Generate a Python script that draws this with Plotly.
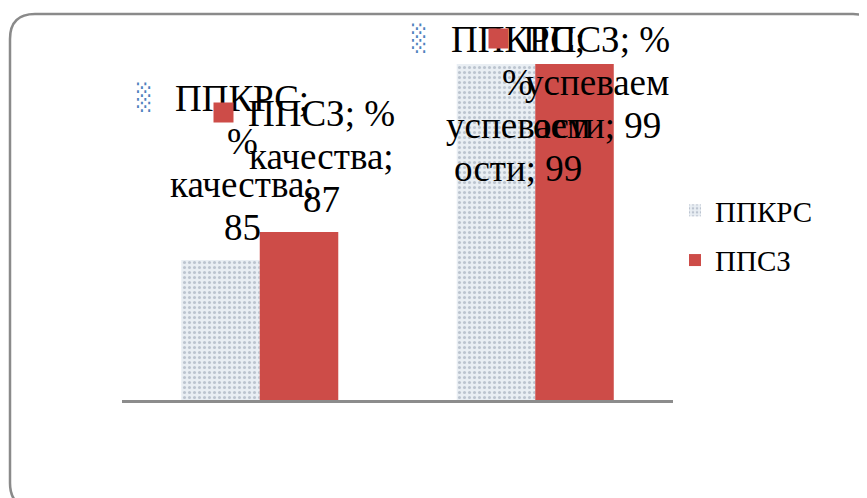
import plotly.graph_objects as go

# ---------------- data ----------------
categories = ["% качества", "% успеваемости"]
series_names = ["ППКРС", "ППСЗ"]
ppkrs_values = [85, 99]
ppsz_values = [87, 99]

# ---------------- geometry (page pixels; page body has an 8px margin) ----------------
OFF = 8
W, H = 867 - OFF, 498 - OFF
PLOT_L, PLOT_R, PLOT_T, PLOT_B = 122, 673, 50, 400
ML, MR, MT, MB = PLOT_L - OFF, W - (PLOT_R - OFF), PLOT_T - OFF, H - (PLOT_B - OFF)
Y_RANGE = [75, 100]
BARGAP = 0.43
PLOT_W = PLOT_R - PLOT_L
PLOT_H = PLOT_B - PLOT_T

LABEL_FONT = "Liberation Serif, Times New Roman, serif"
LABEL_SIZE = 37
LINE_STEP = 43


def px_x(px):
    return (px - PLOT_L) / PLOT_W


def px_y(py):
    return (PLOT_B - py) / PLOT_H


def value_to_py(v):
    return PLOT_B - (v - Y_RANGE[0]) / (Y_RANGE[1] - Y_RANGE[0]) * PLOT_H


def bar_center_px(cat_idx, ser_idx, n_ser=2):
    cat_w = PLOT_W / len(categories)
    group_w = (1 - BARGAP) * cat_w
    bar_w = group_w / n_ser
    return PLOT_L + (cat_idx + 0.5) * cat_w - group_w / 2 + (ser_idx + 0.5) * bar_w


# approximate Times widths (em) used for Excel-like label wrapping
CW = {"П": .722, "К": .722, "Р": .556, "С": .667, "З": .5, ";": .278, " ": .25,
      "%": .833, "к": .5, "а": .444, "ч": .5, "е": .444, "с": .444, "т": .444,
      "в": .47, "у": .5, "п": .5, "м": .62, "о": .5, "и": .5}


def tw(s):
    return sum(CW.get(c, .5) for c in s)


def wrap(text, limit=4.05):
    lines, cur = [], ""
    for word in text.split(" "):
        cand = word if not cur else cur + " " + word
        if tw(cand) <= limit:
            cur = cand
            continue
        if cur:
            lines.append(cur)
            cur = ""
        while tw(word) > limit:
            k = 0
            while tw(word[:k + 1]) <= limit:
                k += 1
            lines.append(word[:k])
            word = word[k:]
        cur = word
    if cur:
        lines.append(cur)
    return lines


PPKRS_FILL = "#e9eef3"
PPKRS_DOT = "#8e9aab"
PPSZ_FILL = "#cd4c48"

fig = go.Figure()
fig.add_trace(go.Bar(
    name=series_names[0], x=categories, y=ppkrs_values, legendgroup="a",
    marker=dict(color=PPKRS_FILL, line=dict(width=0),
                pattern=dict(shape=".", fgcolor=PPKRS_DOT, bgcolor=PPKRS_FILL,
                             size=5, solidity=0.3)),
))
fig.add_trace(go.Bar(
    name=series_names[1], x=categories, y=ppsz_values, legendgroup="b",
    marker=dict(color=PPSZ_FILL, line=dict(width=0)),
))

# ---------------- data labels (Excel style: series; category; value) ----------------
annotations = []
all_values = [ppkrs_values, ppsz_values]
for ci, cat in enumerate(categories):
    for si, sname in enumerate(series_names):
        v = all_values[si][ci]
        lines = wrap(f"{sname}; {cat}; {v}")
        cx = bar_center_px(ci, si) + 22
        top_py = value_to_py(v)
        last_base = top_py - 20
        first_base = last_base - (len(lines) - 1) * LINE_STEP
        if first_base < PLOT_T + 2:
            first_base = PLOT_T + 2
        # legend key inside the label
        kx, ky = cx - 98, first_base - 14
        if si == 0:
            annotations.append(dict(
                xref="paper", yref="paper", x=px_x(kx), y=px_y(ky),
                xanchor="center", yanchor="middle", showarrow=False,
                text="░", font=dict(family="DejaVu Sans Mono", size=25, color="#4f81bd")))
        else:
            annotations.append(dict(
                xref="paper", yref="paper", x=px_x(kx), y=px_y(ky),
                xanchor="center", yanchor="middle", showarrow=False,
                text=" ", width=19, height=19, bgcolor=PPSZ_FILL, borderpad=0,
                font=dict(size=4)))
        for li, line in enumerate(lines):
            base = first_base + li * LINE_STEP
            annotations.append(dict(
                xref="paper", yref="paper", x=px_x(cx), y=px_y(base - 12.5),
                xanchor="center", yanchor="middle", showarrow=False,
                text=line, font=dict(family=LABEL_FONT, size=LABEL_SIZE, color="black")))

# ---------------- rounded frame ----------------
fx0, fy0, fx1, fy1, r = 10, 14, 878, 508, 25
X = px_x
Y = px_y
frame_path = (
    f"M {X(fx0)},{Y(fy0 + r)} "
    f"Q {X(fx0)},{Y(fy0)} {X(fx0 + r)},{Y(fy0)} "
    f"L {X(fx1 - r)},{Y(fy0)} "
    f"Q {X(fx1)},{Y(fy0)} {X(fx1)},{Y(fy0 + r)} "
    f"L {X(fx1)},{Y(fy1 - r)} "
    f"Q {X(fx1)},{Y(fy1)} {X(fx1 - r)},{Y(fy1)} "
    f"L {X(fx0 + r)},{Y(fy1)} "
    f"Q {X(fx0)},{Y(fy1)} {X(fx0)},{Y(fy1 - r)} Z"
)

fig.update_layout(
    width=W, height=H,
    margin=dict(l=ML, r=MR, t=MT, b=MB, pad=0),
    paper_bgcolor="white", plot_bgcolor="white",
    barmode="group", bargap=BARGAP, bargroupgap=0,
    showlegend=True,
    legend=dict(x=px_x(675), xanchor="left", y=px_y(185), yanchor="top",
                font=dict(family=LABEL_FONT, size=29, color="black"),
                traceorder="grouped", tracegroupgap=9,
                bgcolor="rgba(0,0,0,0)", borderwidth=0),
    xaxis=dict(showline=True, linecolor="#8c8c8c", linewidth=3, showticklabels=False,
               ticks="", showgrid=False, zeroline=False),
    yaxis=dict(range=Y_RANGE, visible=False, showgrid=False),
    annotations=annotations,
    shapes=[dict(type="path", xref="paper", yref="paper", path=frame_path,
                 line=dict(color="#8a8a8a", width=2.5), layer="below")],
)

fig.write_html("out.html")
